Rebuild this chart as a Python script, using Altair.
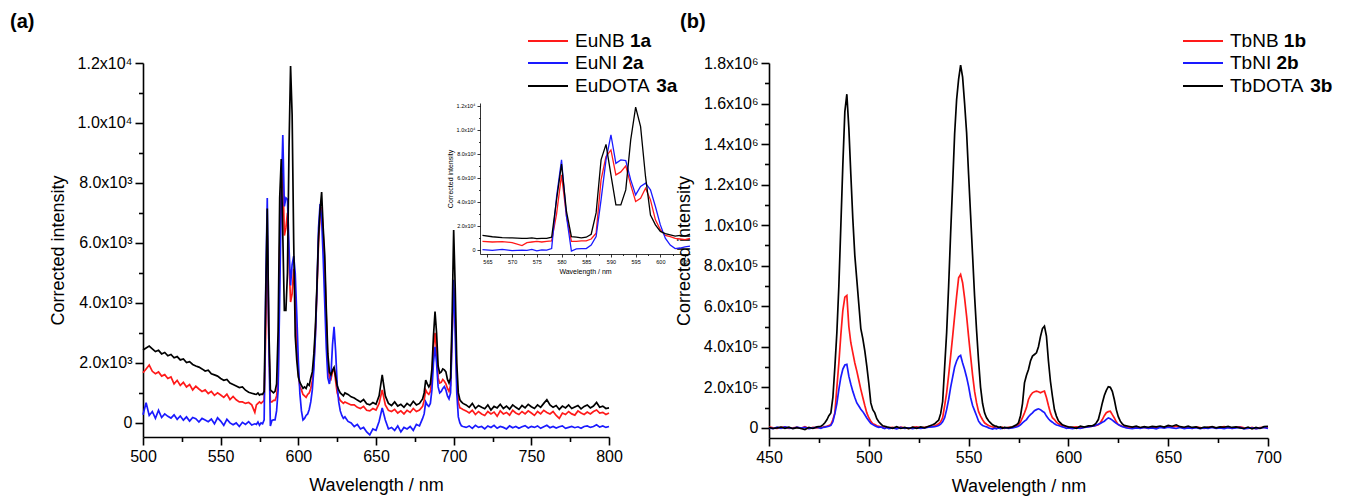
import altair as alt
import pandas as pd

FONT = "Liberation Sans"
RED, BLUE, BLACK = "#ff1a1a", "#1a1aff", "#000000"

# ---------------- panel (a): Eu complexes ----------------
WL_A = (list(range(500, 573, 2)) + list(range(573, 631)) + list(range(632, 681, 2))
        + list(range(681, 707)) + list(range(708, 801, 2)))

EUNB_1A = (
    [1670, 1800, 1930, 1720, 1640, 1700, 1560, 1610, 1480, 1530,
     1300, 1420, 1250, 1350, 1200, 1280, 1100, 1220, 1130, 1050,
     1100, 980, 1050, 920, 1000, 930, 850, 960, 780, 880,
     770, 700, 700, 650, 680, 600, 350]
    + [600, 650, 700, 650, 700, 750, 3000, 6250, 2800, 700,
       700, 750, 750, 900, 1390, 5830, 7780, 8330, 6250, 6500,
       7000, 5420, 4030, 4300, 5140, 4170, 2500, 1670, 1200, 1100,
       950, 900, 850, 950, 1000, 1150, 1400, 2000, 3000, 4400,
       6000, 6900, 7200, 6300, 5200, 3500, 2000, 1500, 1450, 1700,
       1850, 1400, 1000, 850, 750, 700, 650, 700]
    + [650, 600, 600, 520, 480, 550, 420, 400, 480, 430,
       650, 1100, 600, 420, 380, 450, 330, 400, 300, 420,
       350, 480, 380, 430, 550]
    + [750, 1100, 1000, 950, 1050, 1500, 2500, 3000, 2400, 1500,
       1330, 1350, 1450, 1390, 1300, 1150, 1050, 1250, 3000, 4500,
       3500, 1500, 700, 500, 480, 450]
    + [400, 330, 420, 280, 380, 300, 250, 380, 300, 360,
       220, 400, 300, 350, 260, 420, 330, 280, 380, 300,
       400, 330, 250, 380, 300, 420, 350, 300, 380, 250,
       150, 330, 280, 380, 300, 260, 400, 330, 280, 360,
       300, 380, 430, 330, 350, 280, 330]
)

EUNI_2A = (
    [270, 670, 250, 380, 150, 420, 180, 300, 220, 160,
     270, 120, 230, 90, 200, 60, 180, 140, 30, 150,
     100, 40, 130, -30, 170, 60, -80, 120, 0, -60,
     0, -120, 20, -50, 40, -70, -30]
    + [-50, 30, -80, 0, -30, 100, 4440, 7500, 2780, -100,
       80, 100, 100, 400, 1100, 4170, 7500, 9600, 7220, 7500,
       7450, 5830, 4580, 5280, 5560, 5000, 3610, 2080, 970, 400,
       100, 150, 250, 300, 450, 700, 1100, 1800, 2900, 4500,
       6500, 7300, 6800, 5500, 4000, 2500, 1500, 1300, 1600, 2600,
       3200, 2400, 1300, 700, 400, 250, 150, 200]
    + [50, 0, -120, -50, -200, -150, -300, -400, -200, -250,
       50, 500, 100, -200, -150, -250, -100, -300, -150, -200,
       -120, -250, -50, -100, 150]
    + [300, 700, 600, 550, 650, 1100, 2000, 2540, 2000, 1200,
       1000, 1050, 1150, 1210, 1100, 900, 800, 1000, 2800, 4770,
       3000, 1000, 200, 0, -100, -120]
    + [-150, -100, -180, -80, -150, -120, -200, -100, -150, -80,
       -180, -120, -150, -200, -100, -160, -120, -180, -130, -90,
       -170, -120, -150, -100, -180, -130, -80, -160, -120, -170,
       -130, -100, -180, -150, -120, -160, -130, -180, -120, -100,
       -150, -120, -60, -140, -100, -150, -120]
)

EUDOTA_3A = (
    [2430, 2500, 2560, 2470, 2380, 2420, 2300, 2350, 2240, 2280,
     2170, 2210, 2100, 2130, 2010, 2040, 1950, 1900, 1860, 1800,
     1730, 1760, 1640, 1600, 1560, 1480, 1420, 1450, 1330, 1280,
     1230, 1180, 1200, 1090, 1020, 990, 960]
    + [950, 1000, 930, 960, 950, 1050, 4200, 7150, 3200, 1100,
       1050, 1000, 1050, 1300, 3080, 7500, 8800, 6250, 3750, 3750,
       5000, 9170, 11900, 10280, 6100, 2900, 2080, 1530, 1350, 1250,
       1150, 1200, 1150, 1300, 1250, 1500, 1700, 2300, 3200, 4600,
       6200, 7100, 7700, 6500, 5600, 3800, 2300, 1700, 1600, 1750,
       1850, 1550, 1250, 1100, 1000, 950, 900, 1000]
    + [950, 870, 830, 760, 700, 780, 640, 600, 680, 620,
       900, 1600, 900, 650, 580, 700, 560, 620, 520, 650,
       570, 720, 600, 650, 800]
    + [1000, 1430, 1300, 1200, 1300, 1800, 2900, 3710, 3000, 1900,
       1660, 1700, 1800, 1770, 1700, 1450, 1330, 1500, 3500, 6430,
       4500, 2000, 1000, 770, 700, 650]
    + [600, 520, 650, 480, 580, 520, 470, 600, 430, 550,
       500, 620, 480, 560, 460, 600, 520, 450, 580, 500,
       620, 540, 480, 600, 520, 650, 770, 600, 520, 580,
       450, 560, 500, 600, 480, 530, 580, 470, 550, 600,
       500, 560, 680, 520, 560, 480, 500]
)

# ---------------- panel (b): Tb complexes (values in 10^3) ----------------
WL_B = (list(range(450, 477, 2)) + list(range(477, 511)) + list(range(512, 533, 2))
        + list(range(533, 569)) + list(range(570, 575, 2)) + list(range(575, 601))
        + list(range(602, 613, 2)) + list(range(613, 631)) + list(range(632, 701, 2)))

TBNB_1B_K = (
    [5, 0, -3, 2, 4, -2, 0, 3, -2, 6, -3, 2, 0, 3]
    + [4, 6, 8, 12, 16, 40, 74, 200, 320, 460,
       580, 645, 653, 500, 420, 370, 320, 280, 235, 190,
       150, 110, 74, 50, 33, 20, 16, 10, 8, 5,
       3, 6, 2, 0]
    + [3, -2, 4, 0, -3, 2, 5, 0, 3, 6, 8]
    + [10, 14, 20, 30, 50, 110, 173, 260, 354, 450,
       551, 650, 740, 757, 716, 640, 551, 450, 354, 260,
       180, 123, 80, 58, 40, 25, 18, 12, 8, 5,
       3, 6, 2, 0, 3, -2]
    + [2, 4, 8]
    + [15, 30, 50, 74, 100, 140, 160, 173, 178, 181,
       178, 173, 178, 181, 150, 110, 74, 50, 41, 28,
       20, 16, 12, 8, 6, 4]
    + [2, 5, 0, 3, 6, 8]
    + [10, 12, 15, 25, 41, 60, 75, 80, 82, 65, 49, 30, 16, 12, 8, 6, 4, 3]
    + [2, 5, 0, 3, -2, 4, 1, 5, 2, 6, 3, 8, 4, 0, 3, -2, 4, 1, -3, 2,
       5, -1, 3, 6, 2, -2, 3, 5, 0, -3, 2, -4, 1, 3, 0]
)

TBNI_2B_K = (
    [0, -4, 3, -2, 5, 0, -3, 4, -1, 2, -4, 0, 3, -2]
    + [2, 4, 6, 8, 12, 30, 70, 120, 190, 250,
       290, 310, 313, 255, 215, 180, 150, 123, 108, 92,
       80, 65, 49, 35, 22, 16, 10, 6, 3, 5,
       0, -3, 2, -4]
    + [0, -5, 2, -3, 0, -4, 1, -2, 0, 3, 5]
    + [6, 8, 12, 18, 30, 50, 90, 140, 200, 250,
       300, 330, 350, 357, 320, 288, 250, 205, 150, 110,
       85, 60, 33, 20, 12, 8, 5, 0, -3, -6,
       -2, -5, 0, -4, -2, 1]
    + [-3, 0, 4]
    + [8, 15, 25, 33, 41, 55, 65, 74, 85, 90,
       94, 90, 82, 75, 58, 45, 35, 28, 20, 14,
       12, 8, 5, 2, -2, 0]
    + [-4, 0, -3, 2, 5, 8]
    + [10, 14, 18, 22, 28, 33, 42, 49, 45, 38, 30, 22, 16, 10, 6, 3, 0, -2]
    + [-4, 0, -3, 2, -2, 0, -5, 2, -1, 4, 0, -3, 2, -4, 0, -2, 1, -4, 0, -3,
       2, -2, 0, -4, 1, -3, 0, 2, -5, -2, 0, -4, -1, 2, -3]
)

TBDOTA_3B_K = (
    [2, -3, 0, 4, -2, 3, -4, 1, -3, -8, 2, -3, 5, 8]
    + [15, 25, 40, 60, 74, 150, 300, 470, 700, 1000,
       1300, 1560, 1646, 1480, 1250, 1030, 850, 730, 610, 490,
       440, 380, 305, 220, 123, 90, 74, 45, 30, 20,
       10, 8, 5, 3]
    + [-2, 6, -3, 2, -4, 3, -2, 5, 0, 8, 15]
    + [20, 30, 38, 70, 130, 300, 470, 700, 960, 1200,
       1450, 1620, 1720, 1789, 1730, 1600, 1457, 1250, 1050, 850,
       650, 480, 330, 200, 120, 74, 50, 35, 25, 15,
       10, 8, 3, 5, -2, 2]
    + [0, 5, 15]
    + [25, 60, 120, 222, 260, 288, 330, 354, 362, 370,
       400, 450, 490, 502, 453, 330, 230, 156, 90, 58,
       35, 25, 15, 12, 8, 5]
    + [3, -2, 8, 4, 10, 10]
    + [15, 25, 41, 80, 123, 160, 185, 203, 200, 180, 140, 90, 55, 33, 20, 12, 10, 8]
    + [4, 8, 2, 6, 3, 7, 5, 9, 4, 12, 8, 15, 6, 3, 8, 2, 5, -2, 4, 2,
       6, 0, 5, 3, 7, 2, 5, 0, -3, 4, -5, 2, -3, 6, 8]
)

# ---------------- ticks & labels ----------------
YA_TICKS = [0, 2000, 4000, 6000, 8000, 10000, 12000]
YA_LABELS = ["0", "2.0x10³", "4.0x10³", "6.0x10³", "8.0x10³", "1.0x10⁴", "1.2x10⁴"]
YA_MINOR = [1000, 3000, 5000, 7000, 9000, 11000]
XA_TICKS = [500, 550, 600, 650, 700, 750, 800]
XA_MINOR = [525, 575, 625, 675, 725, 775]
YB_TICKS = [0, 200000, 400000, 600000, 800000, 1000000, 1200000, 1400000, 1600000, 1800000]
YB_LABELS = ["0", "2.0x10⁵", "4.0x10⁵", "6.0x10⁵", "8.0x10⁵", "1.0x10⁶", "1.2x10⁶",
             "1.4x10⁶", "1.6x10⁶", "1.8x10⁶"]
YB_MINOR = [100000, 300000, 500000, 700000, 900000, 1100000, 1300000, 1500000, 1700000]
XB_TICKS = [450, 500, 550, 600, 650, 700]
XB_MINOR = [475, 525, 575, 625, 675]
XI_TICKS = [565, 570, 575, 580, 585, 590, 595, 600, 605]
XI_MINOR = [567.5, 572.5, 577.5, 582.5, 587.5, 592.5, 597.5, 602.5]

SERIES_A = ["EuNB", "EuNI", "EuDOTA"]
TAGS_A = ["1a", "2a", "3a"]
SERIES_B = ["TbNB", "TbNI", "TbDOTA"]
TAGS_B = ["1b", "2b", "3b"]
COLORS = [RED, BLUE, BLACK]

for arr in (EUNB_1A, EUNI_2A, EUDOTA_3A):
    assert len(arr) == len(WL_A), (len(arr), len(WL_A))
for arr in (TBNB_1B_K, TBNI_2B_K, TBDOTA_3B_K):
    assert len(arr) == len(WL_B), (len(arr), len(WL_B))

W, H = 1331, 489


def label_expr(ticks, labels):
    s = ""
    for t, l in zip(ticks, labels):
        s += "datum.value == %s ? '%s' : " % (t, l)
    return s + "''"


def major_axis(orient, offset, ticks, labels, title, lsize, tsize, tick, lpad, tpad, width):
    return alt.Axis(
        orient=orient, offset=offset, values=ticks,
        labelExpr=label_expr(ticks, labels),
        tickSize=tick, title=title, grid=False, domainColor="black", domainWidth=width,
        tickColor="black", tickWidth=width, labelColor="black", labelFont=FONT,
        labelFontSize=lsize, labelPadding=lpad, labelOverlap=False, labelFlush=False,
        titleFont=FONT, titleFontSize=tsize, titleFontWeight="normal",
        titleColor="black", titlePadding=tpad,
    )


def minor_axis(orient, offset, values, tick, width):
    return alt.Axis(
        orient=orient, offset=offset, values=values, labels=False, domain=False,
        grid=False, title="", tickSize=tick, tickColor="black", tickWidth=width,
    )


def panel(dfs, xscale, yscale, xaxis, yaxis, sw):
    layers = []
    for df, c in zip(dfs, COLORS):
        layers.append(
            alt.Chart(df).mark_line(color=c, strokeWidth=sw).encode(
                x=alt.X("wl:Q", scale=xscale, axis=xaxis),
                y=alt.Y("val:Q", scale=yscale, axis=yaxis),
            )
        )
    return alt.layer(*layers)


def minor_layer(df, xscale, yscale, xaxis, yaxis):
    return alt.Chart(df.head(1)).mark_point(opacity=0).encode(
        x=alt.X("wl:Q", scale=xscale, axis=xaxis),
        y=alt.Y("val:Q", scale=yscale, axis=yaxis),
    )


# ---- data frames ----
dfs_a = [pd.DataFrame({"wl": WL_A, "val": v}) for v in (EUNB_1A, EUNI_2A, EUDOTA_3A)]
dfs_b = [pd.DataFrame({"wl": WL_B, "val": [x * 1000 for x in v]})
         for v in (TBNB_1B_K, TBNI_2B_K, TBDOTA_3B_K)]
dfs_i = [d[(d.wl >= 564) & (d.wl <= 606)].reset_index(drop=True) for d in dfs_a]


def scales(xd, xr, yd, yr):
    return (alt.Scale(domain=xd, range=xr, nice=False, zero=False),
            alt.Scale(domain=yd, range=yr, nice=False, zero=False))


AXW = 1.6

# ---- panel (a) ----
A_X, A_Y = [135, 601], [429, 55]
xa_s, ya_s = scales([500, 800], A_X, [-470, 12000], A_Y)
pa = panel(dfs_a, xa_s, ya_s,
           major_axis("bottom", A_Y[0] - H, XA_TICKS, [str(t) for t in XA_TICKS],
                      "Wavelength / nm", 16, 18, 8, 3, 12, AXW),
           major_axis("left", -A_X[0], YA_TICKS, YA_LABELS,
                      "Corrected intensity", 16, 18, 8, 3, 10, AXW), 1.7)
xa_s2, ya_s2 = scales([500, 800], A_X, [-470, 12000], A_Y)
ma = minor_layer(dfs_a[0], xa_s2, ya_s2,
                 minor_axis("bottom", A_Y[0] - H, XA_MINOR, 4.5, AXW),
                 minor_axis("left", -A_X[0], YA_MINOR, 4.5, AXW))

# ---- inset ----
I_X, I_Y = [472, 682], [246, 95]
xi_s, yi_s = scales([563.5, 606], I_X, [-350, 12250], I_Y)
pi = panel(dfs_i, xi_s, yi_s,
           major_axis("bottom", I_Y[0] - H, XI_TICKS, [str(t) for t in XI_TICKS],
                      "Wavelength / nm", 5.5, 7, 3, 2, 3, 0.8),
           major_axis("left", -I_X[0], YA_TICKS, YA_LABELS,
                      "Corrected intensity", 5.5, 7, 3, 2, 3, 0.8), 1.3)
xi_s2, yi_s2 = scales([563.5, 606], I_X, [-350, 12250], I_Y)
mi = minor_layer(dfs_i[0], xi_s2, yi_s2,
                 minor_axis("bottom", I_Y[0] - H, XI_MINOR, 1.5, 0.8),
                 minor_axis("left", -I_X[0], YA_MINOR, 1.5, 0.8))

# ---- panel (b) ----
B_X, B_Y = [761, 1260], [430, 55]
xb_s, yb_s = scales([450, 700], B_X, [-50000, 1800000], B_Y)
pb = panel(dfs_b, xb_s, yb_s,
           major_axis("bottom", B_Y[0] - H, XB_TICKS, [str(t) for t in XB_TICKS],
                      "Wavelength / nm", 16, 18, 8, 3, 12, AXW),
           major_axis("left", -B_X[0], YB_TICKS, YB_LABELS,
                      "Corrected intensity", 16, 18, 8, 3, 10, AXW), 1.7)
xb_s2, yb_s2 = scales([450, 700], B_X, [-50000, 1800000], B_Y)
mb = minor_layer(dfs_b[0], xb_s2, yb_s2,
                 minor_axis("bottom", B_Y[0] - H, XB_MINOR, 4.5, AXW),
                 minor_axis("left", -B_X[0], YB_MINOR, 4.5, AXW))

# ---- annotations ----
ARIAL_W = {"E": 667, "u": 556, "N": 722, "B": 667, "I": 278, "D": 722, "O": 778,
           "T": 611, "A": 667, "b": 556, " ": 278}


def text_w(s, size):
    return sum(ARIAL_W.get(c, 556) for c in s) * size / 1000.0


ONE = alt.Data(values=[{}])


def txt(s, x, y, size, weight="normal"):
    return alt.Chart(ONE).mark_text(
        text=s, font=FONT, fontSize=size, fontWeight=weight, align="left",
        baseline="middle", color="black",
    ).encode(x=alt.value(x), y=alt.value(y))


def legend(names, tags, x_line, x_text, ys, size):
    out = []
    for n, t, c, y in zip(names, tags, COLORS, ys):
        out.append(alt.Chart(ONE).mark_rule(color=c, strokeWidth=2).encode(
            x=alt.value(x_line), x2=alt.value(x_line + 40), y=alt.value(y)))
        out.append(txt(n, x_text, y, size))
        out.append(txt(t, x_text + text_w(n + " ", size), y, size, "bold"))
    return out


ROWS = [33, 55, 78]
annots = ([txt("(a)", 2, 14, 20, "bold"), txt("(b)", 672, 14, 20, "bold")]
          + legend(SERIES_A, TAGS_A, 520, 567, ROWS, 19)
          + legend(SERIES_B, TAGS_B, 1175, 1222, ROWS, 19))

chart = alt.layer(pa, ma, pi, mi, pb, mb, *annots).resolve_scale(
    x="independent", y="independent"
).properties(
    width=W, height=H, padding=0, autosize=alt.AutoSizeParams(type="none"),
).configure_view(strokeWidth=0)

chart.save("out.html", embed_options={"renderer": "svg", "actions": False})
